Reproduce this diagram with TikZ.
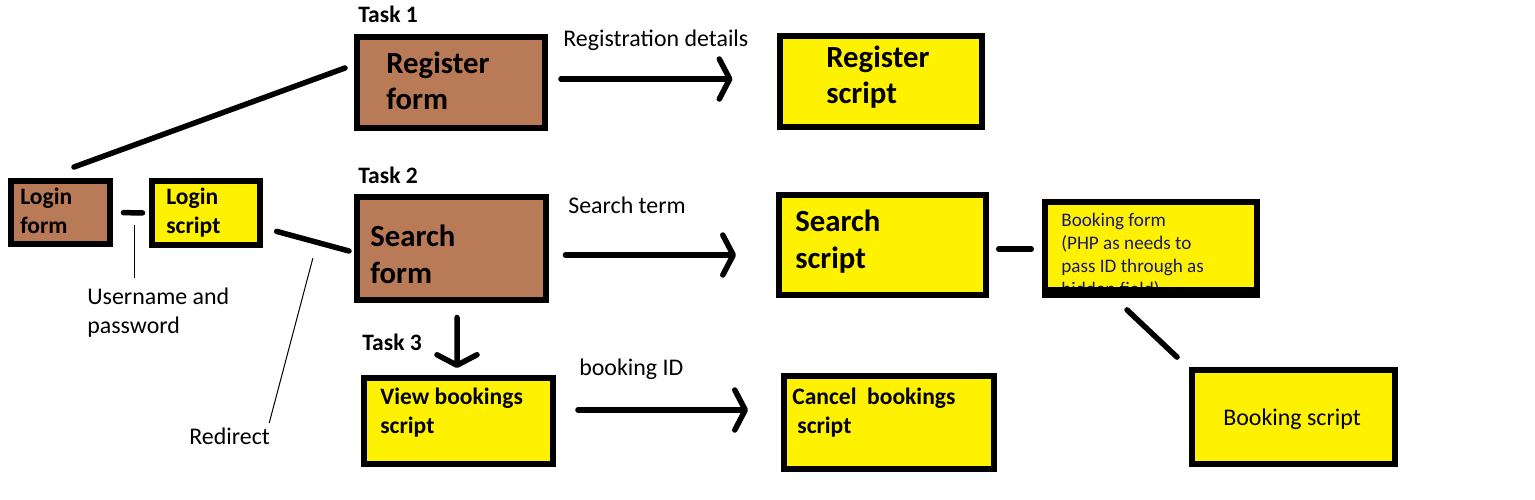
\documentclass[tikz,border=0pt]{standalone}
\usepackage{fontspec}
\setmainfont{Carlito}
\usetikzlibrary{arrows.meta}
\definecolor{formbrown}{RGB}{185,122,87}
\definecolor{scriptyellow}{RGB}{255,242,0}
\definecolor{fieldnavy}{RGB}{25,25,115}
\begin{document}
\begin{tikzpicture}[x=0.02cm,y=-0.02cm,
  box/.style={draw,line width=0.12cm,outer sep=0pt,inner sep=0pt},
  form/.style={box,fill=formbrown},
  script/.style={box,fill=scriptyellow},
  big/.style={anchor=base west,inner sep=0pt,align=left,font=\bfseries\fontsize{17.5pt}{21pt}\selectfont},
  mid/.style={anchor=base west,inner sep=0pt,align=left,font=\bfseries\fontsize{13.4pt}{16.5pt}\selectfont},
  lbl/.style={anchor=base west,inner sep=0pt,align=left,font=\fontsize{13.6pt}{16pt}\selectfont},
  conn/.style={line width=0.11cm,line cap=round},
  arr/.style={conn,-{Straight Barb[length=0.21cm,width=0.8cm,round]}},
  pointer/.style={line width=0.02cm}]
\fill[white] (0,0) rectangle (1535,500);
\useasboundingbox (0,0) rectangle (1535,500);
% boxes
\node[form,minimum width=3.76cm,minimum height=1.83cm] (RF) at (451,82.25) {};
\node[script,minimum width=4.06cm,minimum height=1.84cm] (RS) at (881,81.5) {};
\node[form,minimum width=1.98cm,minimum height=1.26cm] (LF) at (60.5,212.5) {};
\node[script,minimum width=2.16cm,minimum height=1.28cm] (LS) at (206,213) {};
\node[form,minimum width=3.78cm,minimum height=2.06cm] (SF) at (451.5,248.5) {};
\node[script,minimum width=4.15cm,minimum height=2.01cm] (SS) at (882.75,245.25) {};
\node[script,minimum width=4.26cm,minimum height=1.79cm] (BF) at (1151,246.25) {};
\node[script,minimum width=3.78cm,minimum height=1.72cm] (VB) at (458.5,421) {};
\node[script,minimum width=4.2cm,minimum height=1.86cm] (CB) at (889,422.5) {};
\node[script,minimum width=4.07cm,minimum height=1.89cm] (BS) at (1293.25,417.25) {};
% box texts (base = last line)
\node[big] (RFt) at (386,110) {Register\\form};
\node[big] (RSt) at (826,104) {Register\\script};
\node[mid] (LFt) at (20,233) {Login\\form};
\node[mid] (LSt) at (166,233) {Login\\script};
\node[big] (SFt) at (370,283) {Search\\form};
\node[big] (SSt) at (795,268) {Search\\script};
\node[lbl,text=fieldnavy,font=\fontsize{10.9pt}{13pt}\selectfont] (BFt) at (1061,295)
  {Booking form\\(PHP as needs to\\pass ID through as\\hidden field)};
\fill ([shift={(-3,-4)}]BF.south west) rectangle ([shift={(3,7)}]BF.south east);
\node[mid] (VBt) at (380,433) {View bookings\\script};
\node[mid] (CBt) at (792,433) {Cancel\ \ bookings\\\hspace*{0.1cm}script};
\node[lbl] (BSt) at (1223,425) {Booking script};
% labels
\node[mid] (T1) at (358,23) {Task 1};
\node[mid] (T2) at (358,183) {Task 2};
\node[mid] (T3) at (362,350) {Task 3};
\node[lbl] (RD) at (563,47) {Registration details};
\node[lbl] (ST) at (568,214) {Search term};
\node[lbl] (BI) at (579,375) {booking ID};
\node[lbl] (UN) at (87,333) {Username and\\password};
\node[lbl] (RDt) at (189,444) {Redirect};
% connectors
\draw[conn] ([shift={(13.5,-14)}]LF.north) -- ([shift={(-12,-14.25)}]RF.west);
\draw[conn,shorten <=0.27cm,shorten >=0.19cm] (LF.east) -- coordinate[pos=0.595] (D1) (LS.west);
\draw[pointer,shorten >=0.2cm] ([shift={(0,12)}]D1) -- (D1 |- UN.north);
\draw[conn] ([shift={(16.7,18.4)}]LS.east) -- coordinate (R1) ([shift={(-8,2.5)}]SF.west);
\draw[pointer] ([shift={(0,17)}]R1) -- ([shift={(-1,-4)}]RDt.north east);
\draw[arr] ([shift={(16,-3.25)}]RF.east) -- ([shift={(-47,-2.5)}]RS.west);
\draw[arr] ([shift={(19.5,6.5)}]SF.east) -- ([shift={(-43,9.75)}]SS.west);
\draw[arr] ([shift={(5.5,17.5)}]SF.south) -- ([shift={(-1.5,-10)}]VB.north);
\draw[arr] ([shift={(25,-11)}]VB.east) -- ([shift={(-36,-12.5)}]CB.west);
\draw[conn] ([shift={(12.25,3.75)}]SS.east) -- ([shift={(-13.25,2.75)}]BF.west);
\draw[conn] ([shift={(-24,18.9)}]BF.south) -- ([shift={(-14.5,-12.9)}]BS.north west);
\end{tikzpicture}
\end{document}
